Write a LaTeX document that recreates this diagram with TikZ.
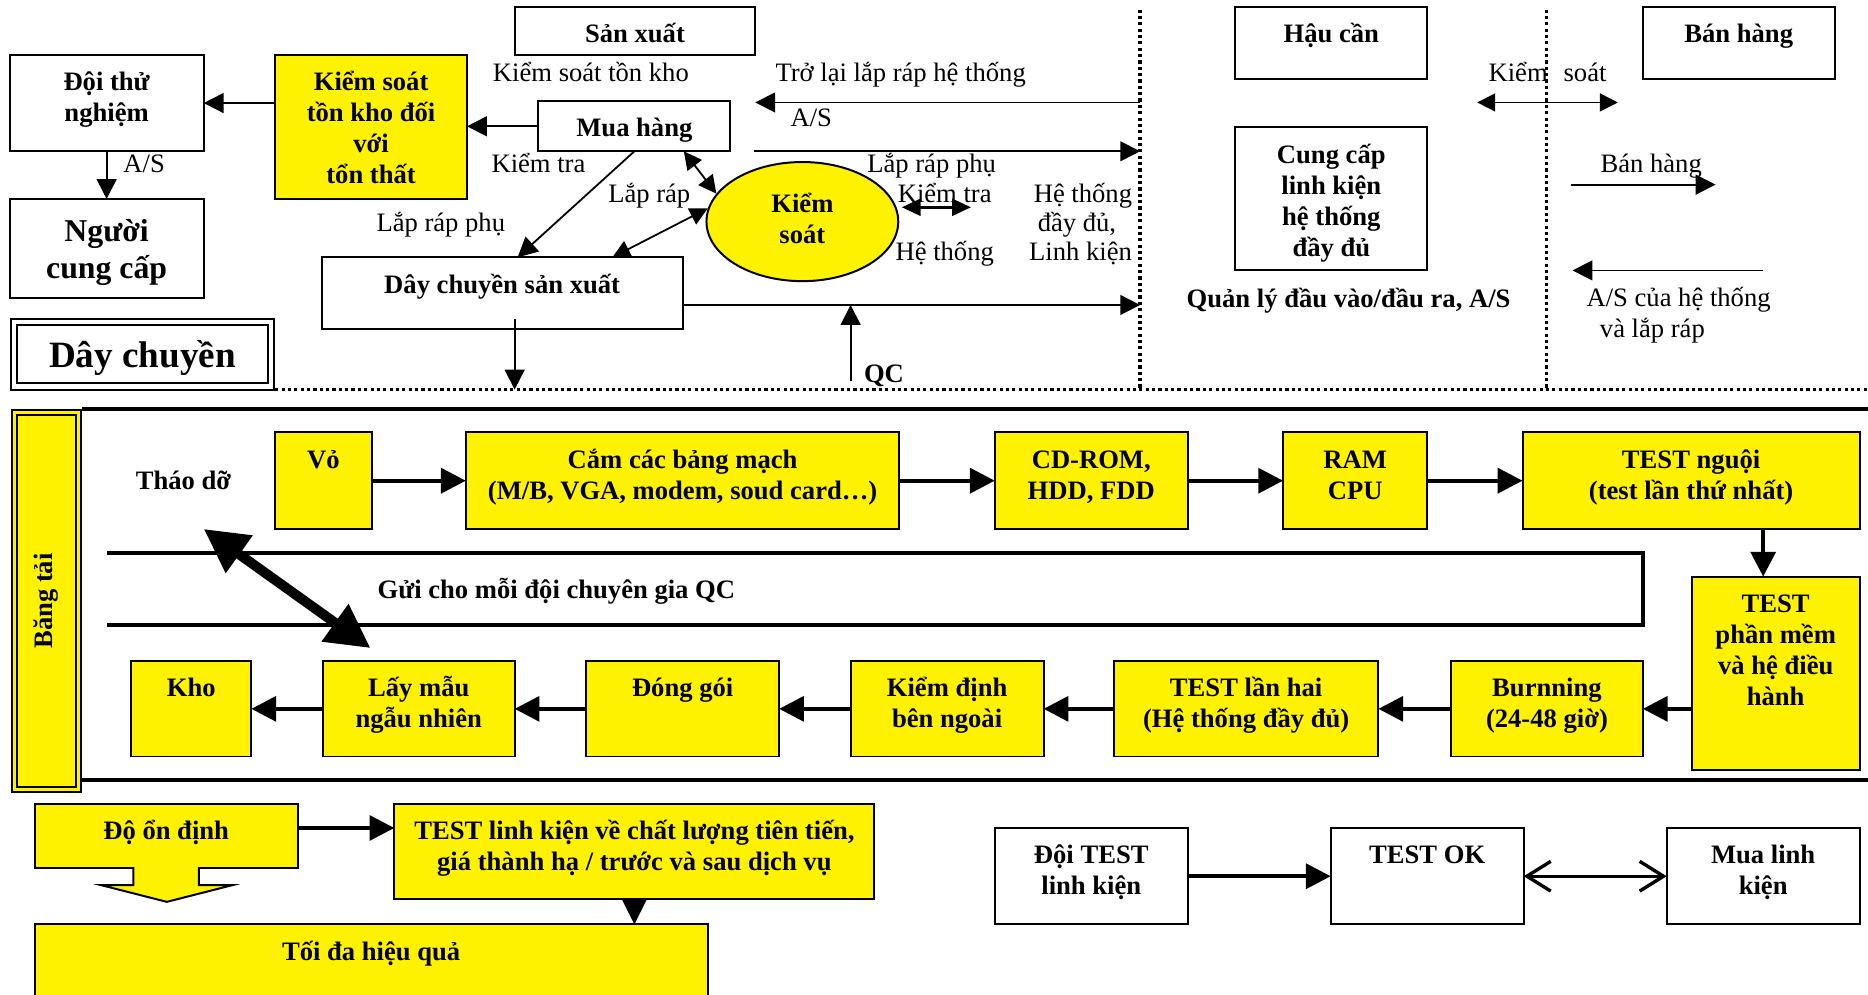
\documentclass[tikz,border=0pt]{standalone}
\usepackage{fontspec}
\setmainfont{Liberation Serif}
\usetikzlibrary{arrows.meta,shapes.geometric,calc}

\newcommand\fs{\fontsize{13.4}{15.6}\selectfont}
\newcommand\tbtop{18pt}

% box given by its corners (layout units); text hangs from the top edge
\newcommand\bx[7][]{%
  \pgfmathsetlengthmacro\bxw{(#5-#3)*0.6pt}%
  \pgfmathsetlengthmacro\bxh{(#6-#4)*0.6pt}%
  \node[box,#1,minimum width=\bxw,minimum height=\bxh] (#2) at ({(#3+#5)/2},{(#4+#6)/2})
    {\parbox[c][\bxh][t]{\bxw}{\lineskiplimit=-100pt\centering\rule{0pt}{\tbtop}\ignorespaces#7\par}};}

\tikzset{
  box/.style={draw, line width=1pt, fill=white, inner sep=0pt, outer sep=0pt, font=\fs\bfseries},
  ybox/.style={fill=yellow},
  big/.style={font=\fontsize{16}{18.6}\selectfont\bfseries},
  lab/.style={inner sep=0pt, anchor=base, font=\fs},
  blab/.style={lab, font=\fs\bfseries},
  arr/.style={line width=0.9pt, -{Triangle[length=10pt,width=10pt]}},
  dbl/.style={line width=0.9pt, {Triangle[length=9pt,width=9pt]}-{Triangle[length=9pt,width=9pt]}},
  sdbl/.style={line width=1.4pt, {Triangle[length=9.5pt,width=8.5pt]}-{Triangle[length=9.5pt,width=8.5pt]}},
  tarr/.style={line width=2pt, -{Triangle[length=12.5pt,width=12.5pt]}},
  bigdbl/.style={line width=5pt, {Triangle[length=22pt,width=22pt]}-{Triangle[length=22pt,width=22pt]}},
  openarr/.style={line width=1.7pt, {Straight Barb[length=12pt,width=15pt]}-{Straight Barb[length=12pt,width=15pt]}},
  dots/.style={line width=1.8pt, dash pattern=on 1.6pt off 1.6pt},
  frame/.style={line width=2pt}
}

\begin{document}
\begin{tikzpicture}[x=0.6pt,y=-0.6pt]
\useasboundingbox (0,0) rectangle (1568,835);
\clip (0,0) rectangle (1568,835);

% ---------- upper part: departments ----------
\draw[dots] (957,8) -- (957,327);
\draw[dots] (1298,8) -- (1298,327);
\draw[dots] (231,327) -- (1568,327);

\bx{sx}{432}{6}{634}{46}{Sản xuất}
\bx{dtn}{8}{46}{171}{127}{Đội thử\\nghiệm}
\bx[ybox]{ks}{231}{46}{392}{167}{Kiểm soát\\tồn kho đối\\với\\tổn thất}
\bx{mh}{452}{85}{613}{127}{Mua hàng}
{\renewcommand\tbtop{21.6pt}%
 \bx[big]{ncc}{8}{167}{171}{250}{Người\\cung cấp}}
\bx{dcsx}{270}{216}{573}{276}{Dây chuyền sản xuất}
\bx{hc}{1037}{6}{1198}{66}{Hậu cần}
\bx{bh}{1379}{6}{1540}{66}{Bán hàng}
\bx{cc}{1037}{107}{1198}{227}{Cung cấp\\linh kiện\\hệ thống\\đầy đủ}

\node[draw, double, double distance=2.2pt, line width=1pt, inner sep=0pt,
      minimum width=129.6pt, minimum height=32.4pt,
      font=\fontsize{18.7}{22}\selectfont\bfseries] (dcb) at (119.5,297.5)
      {\raisebox{-1.8pt}[\height][\depth]{Dây chuyền}};

\node[ellipse, draw, fill=yellow, line width=1pt, inner sep=0pt,
      minimum width=96.6pt, minimum height=60pt, font=\fs\bfseries]
      (kso) at (673.5,186)
      {\raisebox{1.8pt}[\height][\depth]{\parbox{60pt}{\lineskiplimit=-100pt\centering Kiểm\\soát}}};

% free labels of the upper part
\node[lab] (l1) at (496,68) {Kiểm soát tồn kho};
\node[lab] (l2) at (756,68) {Trở lại lắp ráp hệ thống};
\node[lab] (l3) at (681,106) {A/S};
\node[lab] (l4) at (121,145) {A/S};
\node[lab] (l5) at (452,145) {Kiểm tra};
\node[lab] (l6) at (370,194) {Lắp ráp phụ};
\node[lab] (l7) at (545,170) {Lắp ráp};
\node[lab] (l8) at (782,145) {Lắp ráp phụ};
\node[lab] (l9) at (793,170) {Kiểm tra};
\node[lab] (l10) at (793,219) {Hệ thống};
\node[lab] (l11) at (909,170) {Hệ thống};
\node[lab] (l12) at (904,194) {đầy đủ,};
\node[lab] (l13) at (907,219) {Linh kiện};
\node[lab] (l14) at (1299,68) {Kiểm\hspace{8pt}soát};
\node[lab] (l15) at (1386,145) {Bán hàng};
\node[lab] (l16) at (1409,257) {A/S của hệ thống};
\node[lab] (l17) at (1387,283) {và lắp ráp};
\node[blab] (l18) at (742,321) {QC};
\node[blab] (l19) at (1132,258) {Quản lý đầu vào/đầu ra, A/S};

% connectors of the upper part
\coordinate (d1) at (957,86);
\coordinate (a1) at (634,86);
\coordinate (a2) at (633,127);
\coordinate (d2) at (957,127);
\coordinate (d3) at (957,256);
\coordinate (q0) at (714,320);
\coordinate (p1) at (432,327);
\coordinate (s1) at (757,174);
\coordinate (s2) at (815,174);
\coordinate (k1) at (1240,86);
\coordinate (k2) at (1358,86);
\coordinate (b1) at (1319,155);
\coordinate (b2) at (1440,155);
\coordinate (r1) at (1480,227);
\coordinate (r2) at (1320,227);

\draw[arr] (ks.west |- dtn.east) -- (dtn.east);
\draw[arr] (mh.west) -- (mh.west -| ks.east);
\draw[arr] (dtn.south) -- (ncc.north);
\draw[arr] (mh.south) -- ($(dcsx.north)+(13,0)$);
\draw[dbl] ($(mh.south east)+(-39,0)$) -- (kso.162);
\draw[dbl] (kso.172) -- ($(dcsx.north east)+(-59,0)$);
\draw[sdbl] (s1) -- (s2);
\draw[arr] (d1) -- (a1);
\draw[arr] (a2) -- (d2);
\draw[arr] (dcsx.east |- d3) -- (d3);
\draw[arr] (q0) -- (q0 |- d3);
\draw[arr] ($(dcsx.south)+(10.5,-8)$) -- (p1);
\draw[dbl] (k1) -- (k2);
\draw[arr] (b1) -- (b2);
\draw[arr] (r1) -- (r2);

% ---------- middle part: assembly line ----------
\draw[frame] (69,343) -- (1568,343);
\draw[frame] (69,655) -- (1568,655);
\node[draw, double=yellow, double distance=1.8pt, line width=0.9pt, fill=yellow,
      inner sep=0pt, rotate=90, minimum width=190pt, minimum height=32.2pt,
      font=\fs\bfseries] (bt) at (39,504.5) {Băng tải};

\draw[frame, line join=miter] (90,464) -- (1379,464) -- (1379,525) -- (90,525);

\bx[ybox]{vo}{231}{363}{312}{444}{Vỏ}
\bx[ybox]{cam}{391}{363}{755}{444}{Cắm các bảng mạch\\(M/B, VGA, modem, soud card…)}
\bx[ybox]{cd}{835}{363}{997}{444}{CD-ROM,\\HDD, FDD}
\bx[ybox]{ram}{1077}{363}{1198}{444}{RAM\\CPU}
\bx[ybox]{tn}{1278}{363}{1561}{444}{TEST nguội\\(test lần thứ nhất)}
\bx[ybox]{tpm}{1420}{484}{1561}{646}{TEST\\phần mềm\\và hệ điều\\hành}
\bx[ybox]{burn}{1218}{555}{1379}{635}{Burnning\\(24-48 giờ)}
\bx[ybox]{tlh}{935}{555}{1157}{635}{TEST lần hai\\(Hệ thống đầy đủ)}
\bx[ybox]{kd}{714}{555}{876}{635}{Kiểm định\\bên ngoài}
\bx[ybox]{dg}{492}{555}{654}{635}{Đóng gói}
\bx[ybox]{lm}{271}{555}{432}{635}{Lấy mẫu\\ngẫu nhiên}
\bx[ybox]{kho}{110}{555}{211}{635}{Kho}

\node[blab] (l20) at (154,411) {Tháo dỡ};
\node[blab] (l21) at (467,502) {Gửi cho mỗi đội chuyên gia QC};

\draw[tarr] (vo) -- (cam);
\draw[tarr] (cam) -- (cd);
\draw[tarr] (cd) -- (ram);
\draw[tarr] (ram) -- (tn);
\path (tn.south) ++(60.5,0) coordinate (t1);
\draw[tarr] (t1) -- (t1 |- tpm.north);
\draw[tarr] (tpm.west |- burn.east) -- (burn.east);
\draw[tarr] (burn) -- (tlh);
\draw[tarr] (tlh) -- (kd);
\draw[tarr] (kd) -- (dg);
\draw[tarr] (dg) -- (lm);
\draw[tarr] (lm) -- (kho);
\coordinate (g1) at (171,444);
\draw[bigdbl] (g1) -- ($(lm.north west)+(40,-11)$);

% ---------- lower part ----------
\bx[ybox]{don}{29}{675}{250}{729}{Độ ổn định}
\bx[ybox]{tlk}{331}{675}{734}{755}{TEST linh kiện về chất lượng tiên tiến,\\giá thành hạ / trước và sau dịch vụ}
\bx[ybox]{tdhq}{29}{776}{594}{850}{Tối đa hiệu quả}
\bx{dtl}{835}{695}{997}{776}{Đội TEST\\linh kiện}
\bx{tok}{1117}{695}{1279}{776}{TEST OK}
\bx{mlk}{1399}{695}{1561}{776}{Mua linh\\kiện}

% block arrow hanging below the stability box
\fill[yellow] (112,727.5) rectangle (167,744);
\draw[fill=yellow, line width=1pt, line join=miter]
  (112,727.9) -- (112,743) -- (85,743) -- (140,757) -- (195,743) -- (167,743) -- (167,727.9);

\path ($(don.east)+(0,-7)$) coordinate (u1);
\draw[tarr] (u1) -- (u1 -| tlk.west);
\draw[line width=2pt, -{Triangle[length=12.6pt,width=12pt]}] (tlk.south) -- (tlk.south |- tdhq.north);
\draw[tarr] (dtl) -- (tok);
\draw[openarr] (tok) -- (mlk);
\end{tikzpicture}
\end{document}
